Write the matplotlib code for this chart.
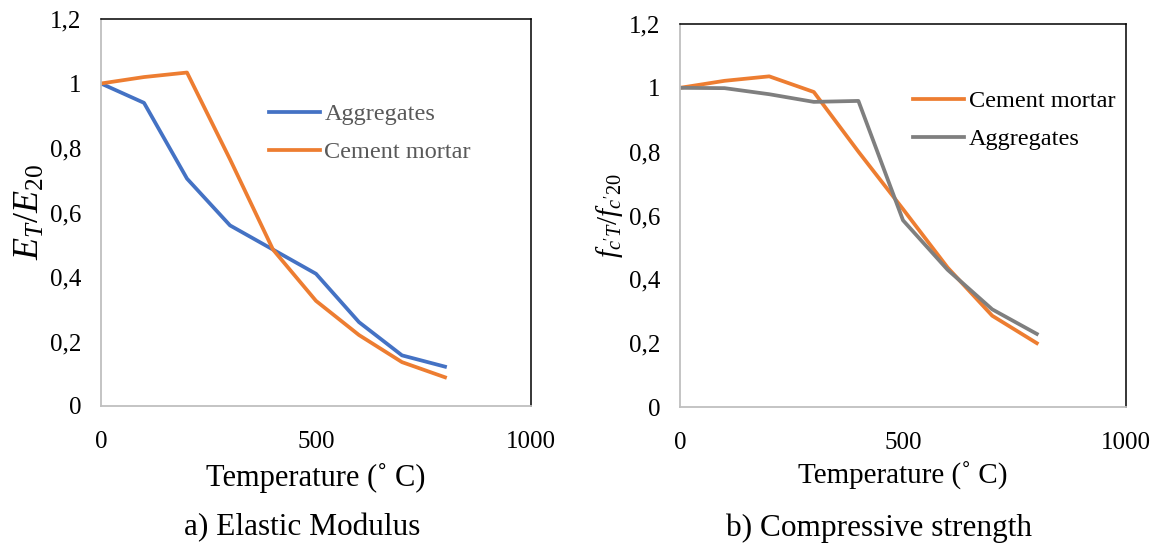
import numpy as np
import matplotlib
matplotlib.use("Agg")
import matplotlib.pyplot as plt

plt.rcParams['font.family'] = ['Liberation Serif', 'DejaVu Serif']
plt.rcParams['mathtext.fontset'] = 'custom'
plt.rcParams['mathtext.rm'] = 'Liberation Serif'
plt.rcParams['mathtext.it'] = 'Liberation Serif:italic'

# ------------------------
# Data
# ------------------------
temp = [0, 100, 200, 300, 400, 500, 600, 700, 800]

# a) elastic modulus ratio
E_aggregates = [1.0, 0.94, 0.705, 0.56, 0.485, 0.41, 0.26, 0.157, 0.122]
E_mortar = [1.0, 1.02, 1.034, 0.765, 0.485, 0.326, 0.22, 0.136, 0.089]

# b) compressive strength ratio
fc_mortar = [1.0, 1.022, 1.036, 0.987, 0.80, 0.62, 0.437, 0.286, 0.20]
fc_aggregates = [1.0, 0.999, 0.98, 0.956, 0.959, 0.585, 0.43, 0.306, 0.229]

xticks = [0, 500, 1000]
yticks = [0, 0.2, 0.4, 0.6, 0.8, 1.0, 1.2]
ytick_labels = ["0", "0,2", "0,4", "0,6", "0,8", "1", "1,2"]

BLUE = '#4472C4'
ORANGE = '#ED7D31'
GREY = '#7F7F7F'
TXT = '#595959'

W, H = 1158, 552
fig = plt.figure(figsize=(W / 100, H / 100), dpi=100)


def px_axes(l, t, r, b):
    return fig.add_axes([l / W, 1 - b / H, (r - l) / W, (b - t) / H])


def style(ax):
    ax.set_xlim(0, 1000)
    ax.set_ylim(0, 1.2)
    ax.set_xticks(xticks)
    ax.set_xticklabels([str(v) for v in xticks])
    ax.set_yticks(yticks)
    ax.set_yticklabels(ytick_labels)
    ax.tick_params(length=0, labelsize=18, colors='black')
    ax.tick_params(axis='x', pad=18)
    ax.tick_params(axis='y', pad=14)
    for s in ['left', 'bottom']:
        ax.spines[s].set_color('#BFBFBF')
        ax.spines[s].set_linewidth(1.3)
    for s in ['top', 'right']:
        ax.spines[s].set_color('black')
        ax.spines[s].set_linewidth(1.1)


# ------------------------
# a) Elastic modulus
# ------------------------
ax1 = px_axes(101, 19, 531, 406)
style(ax1)
ax1.plot(temp, E_aggregates, color=BLUE, lw=2.7, label='Aggregates')
ax1.plot(temp, E_mortar, color=ORANGE, lw=2.7, label='Cement mortar')
ax1.set_xlabel('Temperature (˚ C)', fontsize=22)
ax1.xaxis.label.set_va('center')
ax1.xaxis.set_label_coords(0.5, -0.186)
ax1.set_ylabel(r'$\mathit{E_T/E_{20}}$', fontsize=26)
ax1.yaxis.label.set_va('center')
ax1.yaxis.set_label_coords(-0.165, 0.5)
leg1 = ax1.legend(loc='upper left', bbox_to_anchor=(0.367, 0.807), frameon=False,
                  fontsize=17.5, handlelength=2.1, handletextpad=0.2,
                  labelspacing=0.65, borderaxespad=0)
for t in leg1.get_texts():
    t.set_color(TXT)

fig.text(302 / W, 1 - 528 / H, 'a) Elastic Modulus', fontsize=22.5,
         ha='center', va='center')

# ------------------------
# b) Compressive strength
# ------------------------
ax2 = px_axes(680, 24, 1126, 407)
style(ax2)
ax2.plot(temp, fc_mortar, color=ORANGE, lw=2.7, label='Cement mortar')
ax2.plot(temp, fc_aggregates, color=GREY, lw=2.7, label='Aggregates')
ax2.set_xlabel('Temperature (˚ C)', fontsize=21)
ax2.xaxis.label.set_va('center')
ax2.xaxis.set_label_coords(0.5, -0.18)
ax2.set_ylabel(r"$\mathit{f_{c'T}/f_{c'20}}$", fontsize=21)
ax2.yaxis.label.set_va('center')
ax2.yaxis.set_label_coords(-0.157, 0.5)
leg2 = ax2.legend(loc='upper left', bbox_to_anchor=(0.5, 0.852), frameon=False,
                  fontsize=17.5, handlelength=2.1, handletextpad=0.2,
                  labelspacing=0.65, borderaxespad=0)
for t in leg2.get_texts():
    t.set_color('black')

fig.text(879 / W, 1 - 528 / H, 'b) Compressive strength', fontsize=22.5,
         ha='center', va='center')

fig.savefig('out.png', dpi=100)
